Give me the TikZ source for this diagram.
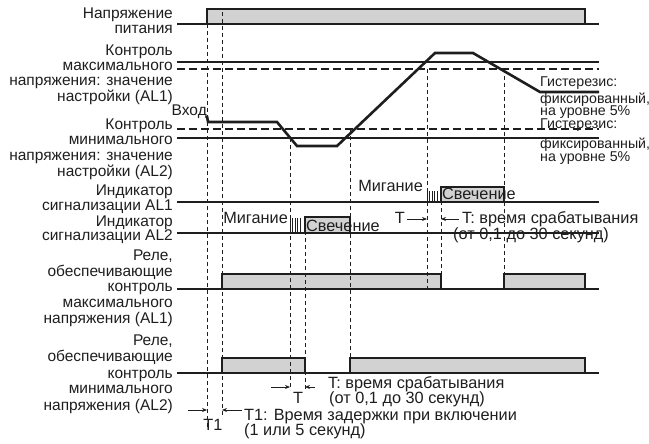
\documentclass[tikz,border=0pt]{standalone}
\usepackage{fontspec}
\setmainfont{Liberation Sans}
\usetikzlibrary{arrows.meta}
\definecolor{ink}{HTML}{1E1E1E}
\definecolor{barfill}{HTML}{D2D2D2}
\begin{document}
\begin{tikzpicture}[x=1pt,y=-1pt,
  lbl/.style={font=\fontsize{15.5}{15.5}\selectfont, inner sep=0pt, anchor=base east, text=ink},
  txt/.style={font=\fontsize{15.5}{15.5}\selectfont, inner sep=0pt, anchor=base west, text=ink},
  big/.style={font=\fontsize{16.3}{16.3}\selectfont},
  hyst/.style={font=\fontsize{14.2}{14.2}\selectfont},
  baseln/.style={draw=ink, line width=1.1pt},
  level/.style={draw=ink, line width=2pt},
  hdash/.style={draw=ink, line width=1.1pt, dash pattern=on 8pt off 4pt},
  vdash/.style={draw=ink, line width=0.9pt, dash pattern=on 4pt off 3pt},
  signal/.style={draw=ink, line width=2.6pt},
  bar/.style={fill=barfill, draw=ink, line width=1.8pt},
  lamp/.style={fill=barfill, draw=ink, line width=1.5pt},
  blink/.style={draw=ink, line width=0.8pt},
  dimarrow/.style={draw=ink, line width=0.8pt, -{Stealth[length=5pt,width=4pt]}}
]
\useasboundingbox (0,0) rectangle (649,444);

% bars
\filldraw[bar] (207,24) -- (207,9) -- (585,9) -- (585,24);
\filldraw[bar] (222,289) -- (222,274) -- (441,274) -- (441,289);
\filldraw[bar] (504,289) -- (504,274) -- (585,274) -- (585,289);
\filldraw[bar] (222,373) -- (222,358) -- (305,358) -- (305,373);
\filldraw[bar] (350,373) -- (350,358) -- (585,358) -- (585,373);
\filldraw[lamp] (441,202) -- (441,187) -- (504,187) -- (504,202);
\filldraw[lamp] (305,233) -- (305,217) -- (350,217) -- (350,233);

% dashed verticals
\draw[vdash] (207,24) -- (207,428);
\draw[vdash] (222,12) -- (222,418);
\draw[vdash] (290,138) -- (290,390);
\draw[vdash] (305,217) -- (305,390);
\draw[vdash] (350,129) -- (350,358);
\draw[vdash] (427,69) -- (427,289);
\draw[vdash] (441,187) -- (441,274);
\draw[vdash] (504,69) -- (504,274);

% horizontal levels
\draw[baseln] (177,24) -- (599,24);
\draw[level] (177,62) -- (599,62);
\draw[hdash] (177,69) -- (599,69);
\draw[hdash] (177,129) -- (599,129);
\draw[level] (177,138) -- (599,138);
\draw[baseln] (177,202) -- (599,202);
\draw[baseln] (177,233) -- (599,233);
\draw[baseln] (177,289) -- (599,289);
\draw[baseln] (177,373) -- (599,373);

% input signal
\draw[signal] (207,116) -- (208,122) -- (277,122) -- (297,146) -- (337,146) -- (435,53) -- (473,53) -- (540,92) -- (599,92);

% blinking
\foreach \xx in {427,429.5,432,434.5,437} \draw[blink] (\xx,191) -- (\xx,202);
\foreach \xx in {290,292.5,295,297.5,300} \draw[blink] (\xx,218) -- (\xx,233);

% dimension arrows
\coordinate (t1l) at (188,410); \coordinate (t1r) at (242,410);
\draw[dimarrow] (t1l) -- (207,410);
\draw[dimarrow] (t1r) -- (222,410);
\draw[dimarrow] (271,387) -- (290,387);
\draw[dimarrow] (315,387) -- (305,387);
\draw[dimarrow] (407,219) -- (427,219);
\draw[dimarrow] (459,219) -- (441,219);

% left labels
\node[lbl] (l1) at (173,18.3) {Напряжение};
\node[lbl] (l2) at (173,33.3) {питания};
\node[lbl] (l3) at (173,56) {Контроль};
\node[lbl] (l4) at (173,70.5) {максимального};
\node[lbl] (l5) at (173,86) {напряжения: значение};
\node[lbl] (l6) at (173,101.5) {настройки (AL1)};
\node[lbl] (vx) at (207,116) {Вход};
\node[lbl] (l7) at (173,130) {Контроль};
\node[lbl] (l8) at (173,145) {минимального};
\node[lbl] (l9) at (173,160.7) {напряжения: значение};
\node[lbl] (l10) at (173,176) {настройки (AL2)};
\node[lbl] (l11) at (173,195) {Индикатор};
\node[lbl] (l12) at (173,210) {сигнализации AL1};
\node[lbl] (l13) at (173,226) {Индикатор};
\node[lbl] (l14) at (173,240.7) {сигнализации AL2};
\node[lbl] (l15) at (173,260.7) {Реле,};
\node[lbl] (l16) at (173,276) {обеспечивающие};
\node[lbl] (l17) at (173,291) {контроль};
\node[lbl] (l18) at (173,307) {максимального};
\node[lbl] (l19) at (173,323) {напряжения (AL1)};
\node[lbl] (l20) at (173,345) {Реле,};
\node[lbl] (l21) at (173,361.7) {обеспечивающие};
\node[lbl] (l22) at (173,378) {контроль};
\node[lbl] (l23) at (173,393) {минимального};
\node[lbl] (l24) at (173,410) {напряжения (AL2)};

% right labels
\node[txt, hyst] (h1) at (540,87) {Гистерезис:};
\node[txt, hyst] (h2) at (540,103.5) {фиксированный,};
\node[txt, hyst] (h3) at (540,115.8) {на уровне 5\%};
\node[txt, hyst] (h4) at (540,128.4) {Гистерезис:};
\node[txt, hyst] (h5) at (540,148.3) {фиксированный,};
\node[txt, hyst] (h6) at (540,161.7) {на уровне 5\%};

% lamp texts
\node[lbl, big] (m1) at (423,191.5) {Мигание};
\node[txt, big] (s1) at (442,200) {Свечение};
\node[lbl, big] (m2) at (288,223) {Мигание};
\node[txt, big] (s2) at (306,231.7) {Свечение};

% timing texts
\node[lbl, big] (ta) at (405,223.5) {T};
\node[txt, big] (tb) at (462,223.5) {T: время срабатывания};
\node[txt, big] (tc) at (453,239) {(от 0,1 до 30 секунд)};
\node[txt, big] (td) at (328,388.3) {T: время срабатывания};
\node[txt, big] (te) at (329,403) {(от 0,1 до 30 секунд)};
\node[txt, big, anchor=base] (tf) at (298,403) {T};
\node[txt, big] (tg) at (244,420) {T1: Время задержки при включении};
\node[txt, big] (th) at (244,435.5) {(1 или 5 секунд)};
\node[txt, big, anchor=base] (ti) at (213,430.7) {T1};
\end{tikzpicture}
\end{document}
